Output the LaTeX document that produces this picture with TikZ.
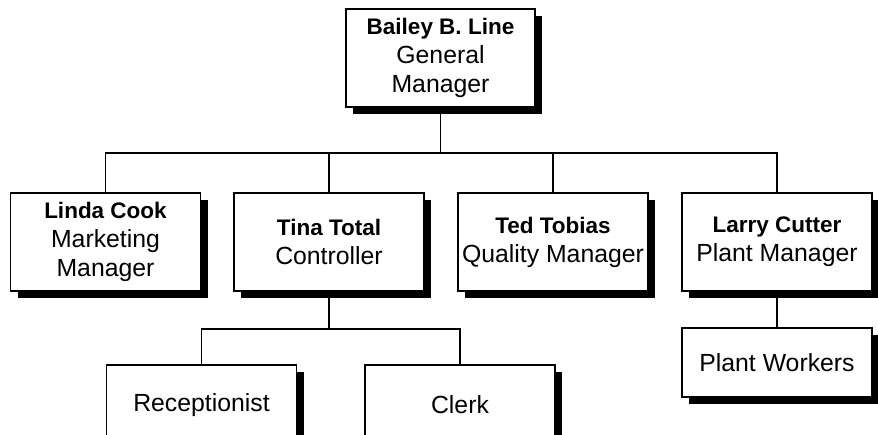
\documentclass[tikz,border=0pt]{standalone}
\usepackage{fontspec}
\setmainfont{Liberation Sans}
\usetikzlibrary{shadows}
\begin{document}
\begin{tikzpicture}[x=1pt,y=-1pt,
  box/.style={draw=black, line width=1.5pt, fill=white, align=center,
    minimum width=190pt, minimum height=98pt, inner sep=0pt,
    font=\fontsize{24.8}{29}\selectfont,
    drop shadow={shadow xshift=7pt, shadow yshift=-7pt, fill=black, opacity=1, draw=none}},
  smallbox/.style={box, minimum height=69pt},
  lowbox/.style={box, minimum height=80pt},
  conn/.style={draw=black, line width=1.3pt}]
\useasboundingbox (0,0) rectangle (878,434);
\clip (0,0) rectangle (878,434);
\newcommand{\bname}[1]{{\fontsize{22.5}{29}\selectfont\bfseries #1}}
\node[box, minimum width=189pt] (gm) at (440.5,58) {\bname{Bailey B. Line}\\General\\Manager};
\node[box] (linda) at (105.5,242) {\bname{Linda Cook}\\Marketing\\Manager};
\node[box] (tina) at (329,242) {\bname{Tina Total}\\Controller};
\node[box] (ted) at (553,242) {\bname{Ted Tobias}\\Quality Manager};
\node[box] (larry) at (777,242) {\bname{Larry Cutter}\\Plant Manager};
\node[smallbox] (pw) at (777,362.5) {Plant Workers};
\node[lowbox] (rec) at (201.5,405) {Receptionist};
\node[lowbox] (clerk) at (460,405) {Clerk};
\coordinate (bus) at (440.5,153);
\coordinate (bus2) at (329,329);
\draw[conn] (gm.south) -- (bus);
\draw[conn] (linda.north) |- (bus) -| (larry.north);
\draw[conn] (tina.north) -- (tina.north |- bus);
\draw[conn] (ted.north) -- (ted.north |- bus);
\draw[conn] (tina.south) -- (bus2);
\draw[conn] (rec.north) |- (bus2) -| (clerk.north);
\draw[conn] (larry.south) -- (pw.north);
\end{tikzpicture}
\end{document}
